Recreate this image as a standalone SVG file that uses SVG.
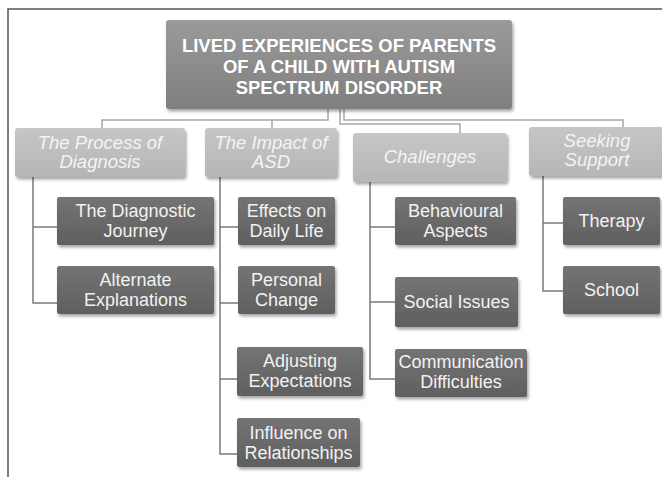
<svg xmlns="http://www.w3.org/2000/svg" width="662" height="477" viewBox="0 0 662 477">
  <defs>
    <linearGradient id="gRoot" x1="0" y1="0" x2="0" y2="1">
      <stop offset="0" stop-color="#9a9a9a"/>
      <stop offset="1" stop-color="#7f7f7f"/>
    </linearGradient>
    <linearGradient id="gHead" x1="0" y1="0" x2="0" y2="1">
      <stop offset="0" stop-color="#c6c6c6"/>
      <stop offset="1" stop-color="#b6b6b6"/>
    </linearGradient>
    <linearGradient id="gLeaf" x1="0" y1="0" x2="0" y2="1">
      <stop offset="0" stop-color="#747474"/>
      <stop offset="1" stop-color="#5f5f5f"/>
    </linearGradient>
    <filter id="shadow" x="-10%" y="-10%" width="125%" height="135%">
      <feDropShadow dx="1.5" dy="2.5" stdDeviation="1.6" flood-color="#000" flood-opacity="0.35"/>
    </filter>
  </defs>
  <style>
    .root { fill: url(#gRoot); filter: url(#shadow); }
    .head { fill: url(#gHead); filter: url(#shadow); }
    .leaf { fill: url(#gLeaf); filter: url(#shadow); }
    .rootText { font-family: "Liberation Sans", Arial, sans-serif; font-weight: bold; font-size: 18.5px; fill: #ffffff; text-anchor: middle; }
    .headText { font-family: "Liberation Sans", Arial, sans-serif; font-style: italic; font-size: 18.5px; fill: #f4f4f4; text-anchor: middle; }
    .leafText { font-family: "Liberation Sans", Arial, sans-serif; font-size: 18px; fill: #f2f2f2; text-anchor: middle; }
    .frame { fill: none; stroke: #555555; stroke-width: 1.5; }
    .link { fill: none; stroke: #a8a8a8; stroke-width: 1.5; }
    .branch { fill: none; stroke: #7a7a7a; stroke-width: 1.5; }
  </style>

  <rect width="662" height="477" fill="#ffffff"/>
  <path class="frame" d="M8,477 V9 H662"/>

  <g id="connectors">
    <!-- root to category boxes -->
    <path class="link" d="M328,109 V120 H102 V128"/>
    <path class="link" d="M272,120 V128"/>
    <path class="link" d="M340,109 V124 H460 V133"/>
    <path class="link" d="M344,109 V120 H623 V127"/>
    <!-- category boxes to sub-themes -->
    <path class="branch" d="M33,177 V303 H57 M33,227 H57"/>
    <path class="branch" d="M220,177 V454 H237 M220,227 H238 M220,303 H238 M220,379 H237"/>
    <path class="branch" d="M370,182 V379 H395 M370,227 H395 M370,302 H395"/>
    <path class="branch" d="M543,176 V291 H563 M543,223 H563"/>
  </g>

  <g id="root">
    <rect class="root" x="166" y="20" width="346" height="89" rx="3"/>
    <text class="rootText" x="339" y="52">LIVED EXPERIENCES OF PARENTS</text>
    <text class="rootText" x="339" y="73">OF A CHILD WITH AUTISM</text>
    <text class="rootText" x="339" y="94">SPECTRUM DISORDER</text>
  </g>

  <g id="process-of-diagnosis">
    <rect class="head" x="15" y="128" width="170" height="49" rx="3"/>
    <text class="headText" x="100" y="149">The Process of</text>
    <text class="headText" x="100" y="168">Diagnosis</text>
  </g>
  <g id="impact-of-asd">
    <rect class="head" x="205" y="128" width="132" height="49" rx="3"/>
    <text class="headText" x="271" y="149">The Impact of</text>
    <text class="headText" x="271" y="168">ASD</text>
  </g>
  <g id="challenges">
    <rect class="head" x="353" y="133" width="154" height="49" rx="3"/>
    <text class="headText" x="430" y="163">Challenges</text>
  </g>
  <g id="seeking-support">
    <rect class="head" x="529" y="127" width="136" height="49" rx="3"/>
    <text class="headText" x="597" y="147">Seeking</text>
    <text class="headText" x="597" y="166">Support</text>
  </g>

  <g id="diagnostic-journey">
    <rect class="leaf" x="57" y="197" width="157" height="48" rx="2"/>
    <text class="leafText" x="135.5" y="217">The Diagnostic</text>
    <text class="leafText" x="135.5" y="237">Journey</text>
  </g>
  <g id="alternate-explanations">
    <rect class="leaf" x="57" y="266" width="157" height="48" rx="2"/>
    <text class="leafText" x="135.5" y="286">Alternate</text>
    <text class="leafText" x="135.5" y="306">Explanations</text>
  </g>

  <g id="effects-daily-life">
    <rect class="leaf" x="238" y="197" width="97" height="48" rx="2"/>
    <text class="leafText" x="286.5" y="217">Effects on</text>
    <text class="leafText" x="286.5" y="237">Daily Life</text>
  </g>
  <g id="personal-change">
    <rect class="leaf" x="238" y="266" width="97" height="48" rx="2"/>
    <text class="leafText" x="286.5" y="286">Personal</text>
    <text class="leafText" x="286.5" y="306">Change</text>
  </g>
  <g id="adjusting-expectations">
    <rect class="leaf" x="237" y="347" width="126" height="49" rx="2"/>
    <text class="leafText" x="300" y="367">Adjusting</text>
    <text class="leafText" x="300" y="387">Expectations</text>
  </g>
  <g id="influence-relationships">
    <rect class="leaf" x="237" y="418" width="123" height="49" rx="2"/>
    <text class="leafText" x="298.5" y="439">Influence on</text>
    <text class="leafText" x="298.5" y="459">Relationships</text>
  </g>

  <g id="behavioural-aspects">
    <rect class="leaf" x="395" y="197" width="121" height="48" rx="2"/>
    <text class="leafText" x="455.5" y="217">Behavioural</text>
    <text class="leafText" x="455.5" y="237">Aspects</text>
  </g>
  <g id="social-issues">
    <rect class="leaf" x="395" y="277" width="123" height="50" rx="2"/>
    <text class="leafText" x="456.5" y="308">Social Issues</text>
  </g>
  <g id="communication-difficulties">
    <rect class="leaf" x="395" y="349" width="132" height="48" rx="2"/>
    <text class="leafText" x="461" y="368">Communication</text>
    <text class="leafText" x="461" y="388">Difficulties</text>
  </g>

  <g id="therapy">
    <rect class="leaf" x="563" y="197" width="97" height="48" rx="2"/>
    <text class="leafText" x="611.5" y="227">Therapy</text>
  </g>
  <g id="school">
    <rect class="leaf" x="563" y="266" width="97" height="48" rx="2"/>
    <text class="leafText" x="611.5" y="296">School</text>
  </g>
</svg>
